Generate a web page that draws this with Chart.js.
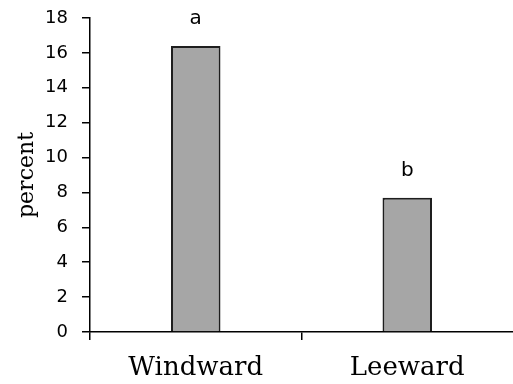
<!DOCTYPE html>
<html>
<head>
<meta charset="utf-8">
<script src="https://cdn.jsdelivr.net/npm/chart.js@4.4.0/dist/chart.umd.min.js"></script>
<style>
  body { margin: 0; background: #fff; }
</style>
</head>
<body>
<canvas id="chart" width="513" height="384"></canvas>
<script>
// data
var sites = ["Windward", "Leeward"];
var percent = [16.4, 7.7];
var letters = ["a", "b"];   // significance letters over the bars
var yTicks = [0, 2, 4, 6, 8, 10, 12, 14, 16, 18];

// letters above each bar
var letterPlugin = {
  id: "letters",
  afterDatasetsDraw: function(chart) {
    var ctx = chart.ctx;
    var meta = chart.getDatasetMeta(0);
    ctx.save();
    ctx.fillStyle = "#000";
    ctx.font = "20px 'DejaVu Sans'";
    ctx.textAlign = "center";
    ctx.textBaseline = "middle";
    meta.data.forEach(function(bar, i) {
      ctx.fillText(letters[i], bar.x, bar.y - 27);
    });
    ctx.restore();
  }
};

new Chart(document.getElementById("chart"), {
  type: "bar",
  data: {
    labels: sites,
    datasets: [{
      data: percent,
      backgroundColor: "#a6a6a6",
      borderColor: "#1e1e1e",
      borderWidth: 2,
      barPercentage: 0.234,
      categoryPercentage: 1
    }]
  },
  options: {
    responsive: false,
    animation: false,
    layout: { padding: { left: 14, top: 18, right: 0, bottom: 0 } },
    plugins: { legend: { display: false }, tooltip: { enabled: false } },
    scales: {
      x: {
        grid: {
          drawOnChartArea: false,
          tickLength: 8,
          lineWidth: 1.5,
          // the last (right edge) line has no tick context -> hide it
          color: function(c) { return c.type === "tick" ? "#000" : "rgba(0,0,0,0)"; }
        },
        border: { color: "#000", width: 1.5 },
        ticks: { color: "#000", font: { family: "'DejaVu Serif'", size: 26 }, padding: 13 },
        afterFit: function(scale) { scale.height = 384 - 332; }
      },
      y: {
        min: 0,
        max: 18,
        afterBuildTicks: function(scale) {
          scale.ticks = yTicks.map(function(v) { return { value: v }; });
        },
        grid: { drawOnChartArea: false, tickLength: 8, color: "#000", lineWidth: 1.5 },
        border: { color: "#000", width: 1.5 },
        ticks: { color: "#000", font: { family: "'DejaVu Sans'", size: 18 }, padding: 14 },
        title: {
          display: true,
          text: "percent",
          color: "#000",
          font: { family: "'DejaVu Serif'", size: 22 },
          padding: 0
        },
        afterFit: function(scale) {
          scale.width = 90 - 14;
          scale.paddingTop = 0;
          scale.paddingBottom = 0;
        }
      }
    }
  },
  plugins: [letterPlugin]
});
</script>
</body>
</html>
